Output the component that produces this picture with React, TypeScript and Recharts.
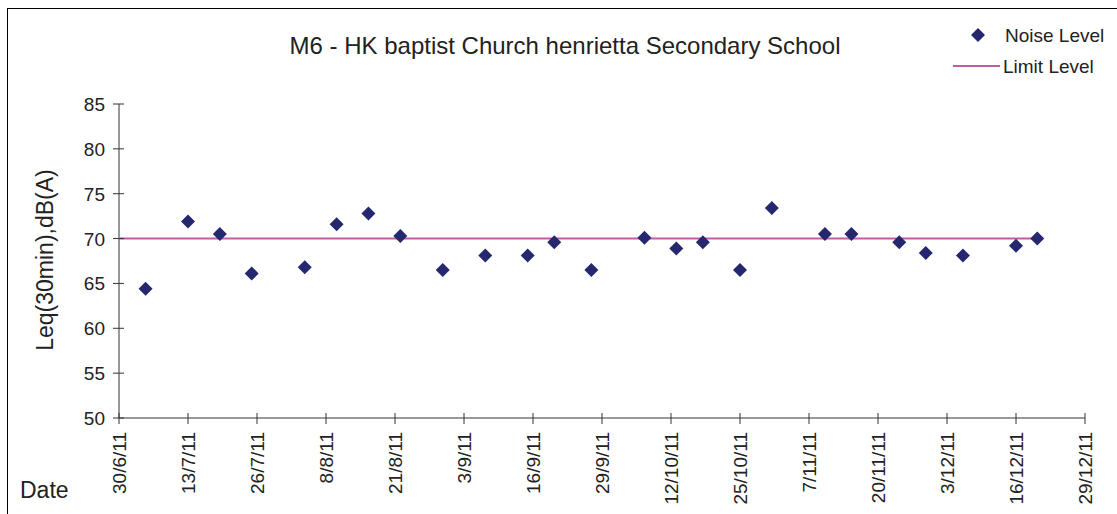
import React from 'react';
import { ScatterChart, Scatter, XAxis, YAxis } from 'recharts';

// measurement dates (d/m/yy) and readings
const measureDates = [
  '5/7/11', '13/7/11', '19/7/11', '25/7/11', '4/8/11', '10/8/11', '16/8/11', '22/8/11', '30/8/11',
  '7/9/11', '15/9/11', '20/9/11', '27/9/11', '7/10/11', '13/10/11', '18/10/11', '25/10/11', '31/10/11',
  '10/11/11', '15/11/11', '24/11/11', '29/11/11', '6/12/11', '16/12/11', '20/12/11',
];
const noiseLevels = [
  64.4, 71.9, 70.5, 66.1, 66.8, 71.6, 72.8, 70.3, 66.5,
  68.1, 68.1, 69.6, 66.5, 70.1, 68.9, 69.6, 66.5, 73.4,
  70.5, 70.5, 69.6, 68.4, 68.1, 69.2, 70.0,
];
const limitDates = ['30/6/11', '20/12/11'];
const limitLevel = 70;

const tickDates = [
  '30/6/11', '13/7/11', '26/7/11', '8/8/11', '21/8/11', '3/9/11', '16/9/11', '29/9/11',
  '12/10/11', '25/10/11', '7/11/11', '20/11/11', '3/12/11', '16/12/11', '29/12/11',
];
const yTicks = [50, 55, 60, 65, 70, 75, 80, 85];

const FONT = '"Liberation Sans", Arial, sans-serif';
const NAVY = '#25286f';
const PINK = '#c25ba6';
const INK = '#222';

// days since the first tick date
const toDay = (s: string) => {
  const [d, m, y] = s.split('/').map(Number);
  return Math.round((Date.UTC(2000 + y, m - 1, d) - Date.UTC(2011, 5, 30)) / 86400000);
};

const tickDays = tickDates.map(toDay);
const noiseData = measureDates.map((d, i) => ({ day: toDay(d), value: noiseLevels[i] }));
const limitData = limitDates.map(d => ({ day: toDay(d), value: limitLevel }));

const Diamond = (props: any) => {
  const { cx, cy } = props;
  const r = 7;
  return <polygon points={`${cx},${cy - r} ${cx + r},${cy} ${cx},${cy + r} ${cx - r},${cy}`} fill={NAVY} />;
};

const XTick = (props: any) => {
  const { x, y, payload } = props;
  const label = tickDates[tickDays.indexOf(payload.value)] ?? '';
  return (
    <g transform={`translate(${x},${y})`}>
      <line x1={0} x2={0} y1={-14} y2={-19} stroke="#333" />
      <text transform="rotate(-90)" x={0} y={0} dy={7} textAnchor="end" fill={INK} fontSize={19} fontFamily={FONT}>
        {label}
      </text>
    </g>
  );
};

const YTick = (props: any) => {
  const { x, y, payload } = props;
  return (
    <g transform={`translate(${x},${y})`}>
      <line x1={14} x2={19} y1={0} y2={0} stroke="#333" />
      <text x={0} y={0} dy={7} textAnchor="end" fill={INK} fontSize={19} fontFamily={FONT}>
        {payload.value}
      </text>
    </g>
  );
};

export default function App() {
  return (
    <div style={{ position: 'absolute', left: 0, top: 0, width: 1117, height: 514, background: '#fff', fontFamily: FONT, color: INK }}>
      {/* frame: top and left edges only */}
      <div style={{ position: 'absolute', left: 7, top: 8, width: 1110, height: 506, borderTop: '1px solid #000', borderLeft: '1px solid #000' }} />

      <div style={{ position: 'absolute', left: 0, top: 32, width: 1130, textAlign: 'center', fontSize: 24 }}>
        M6 - HK baptist Church henrietta Secondary School
      </div>

      <div style={{ position: 'absolute', left: 45, top: 260, transform: 'translate(-50%, -50%) rotate(-90deg)', whiteSpace: 'nowrap', fontSize: 23 }}>
        Leq(30min),dB(A)
      </div>

      <div style={{ position: 'absolute', left: 20, top: 477, fontSize: 23 }}>Date</div>

      {/* legend */}
      <svg style={{ position: 'absolute', left: 940, top: 20 }} width={177} height={60}>
        <polygon points="38,8 45,15 38,22 31,15" fill={NAVY} />
        <text x={65} y={22} fontSize={19} fontFamily={FONT} fill={INK}>Noise Level</text>
        <line x1={13} x2={60} y1={46} y2={46} stroke={PINK} strokeWidth={2} />
        <text x={63} y={53} fontSize={19} fontFamily={FONT} fill={INK}>Limit Level</text>
      </svg>

      <div style={{ position: 'absolute', left: 0, top: 0 }}>
        <ScatterChart width={1117} height={514} margin={{ top: 104, right: 32, bottom: 16, left: 79 }}>
          <XAxis
            type="number"
            dataKey="day"
            domain={[0, 182]}
            ticks={tickDays}
            interval={0}
            height={80}
            stroke="#333"
            tickSize={6}
            tickMargin={8}
            tick={<XTick />}
          />
          <YAxis
            type="number"
            dataKey="value"
            domain={[50, 85]}
            ticks={yTicks}
            interval={0}
            width={40}
            stroke="#333"
            tickSize={6}
            tickMargin={8}
            tick={<YTick />}
          />
          <Scatter
            name="Limit Level"
            data={limitData}
            line={{ stroke: PINK, strokeWidth: 2 }}
            shape={() => <g />}
            isAnimationActive={false}
          />
          <Scatter name="Noise Level" data={noiseData} shape={<Diamond />} isAnimationActive={false} />
        </ScatterChart>
      </div>
    </div>
  );
}
